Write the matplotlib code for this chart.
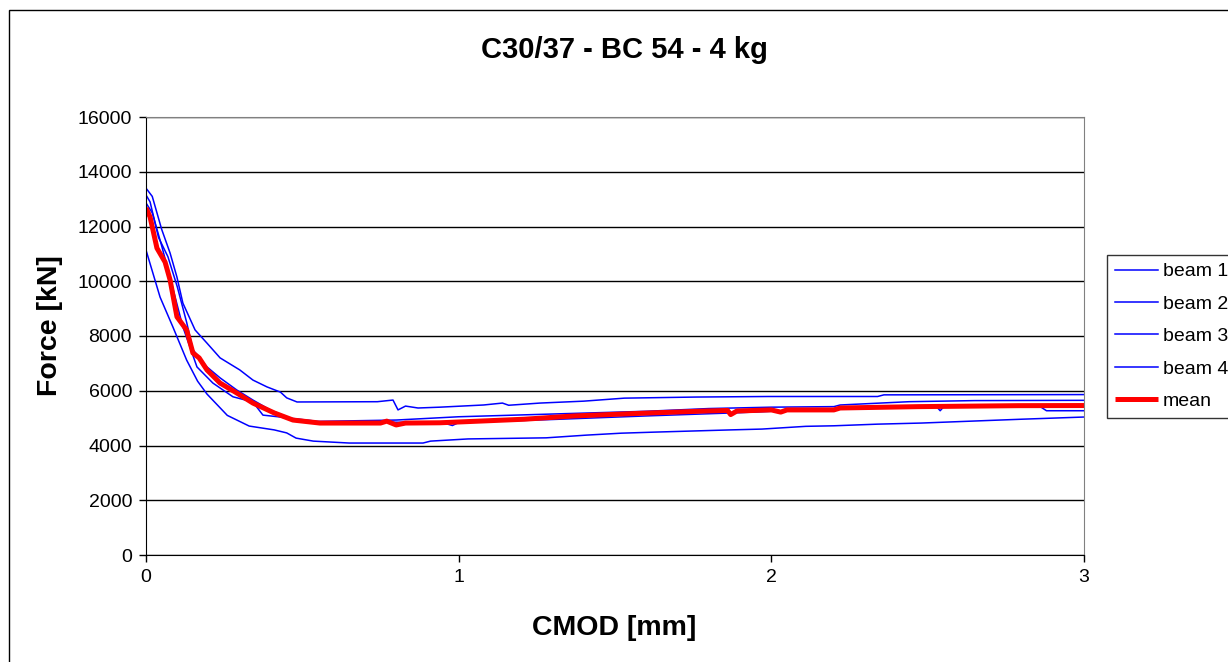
import numpy as np
import matplotlib
matplotlib.use("Agg")
import matplotlib.pyplot as plt
from matplotlib.patches import Rectangle

plt.rcParams['font.family'] = ['Liberation Sans', 'DejaVu Sans']

# beam 1 (top curve)
x1 = [0, 0.02, 0.05, 0.077, 0.099, 0.118, 0.157, 0.195, 0.237, 0.30, 0.342, 0.387, 0.43, 0.45, 0.483,
      0.74, 0.79, 0.806, 0.83, 0.87, 0.94, 1.08, 1.14, 1.16, 1.26, 1.40, 1.53, 1.76, 1.99, 2.34, 2.36, 3.0]
f1 = [13400, 13100, 11900, 11030, 10150, 9200, 8220, 7740, 7200, 6760, 6390, 6140, 5950, 5740, 5590,
      5600, 5660, 5300, 5440, 5370, 5400, 5480, 5550, 5470, 5550, 5620, 5730, 5770, 5790, 5790, 5850, 5860]

# beam 2
x2 = [0, 0.013, 0.04, 0.07, 0.10, 0.13, 0.15, 0.195, 0.237, 0.29, 0.342, 0.397, 0.46, 0.55, 0.8, 1.0,
      1.3, 1.6, 1.8, 2.0, 2.2, 2.22, 2.44, 2.65, 3.0]
f2 = [13150, 12900, 11600, 10900, 9800, 8500, 7500, 6870, 6470, 6030, 5660, 5300, 5000, 4880, 4930, 5050,
      5150, 5250, 5350, 5400, 5420, 5480, 5600, 5640, 5650]

# beam 3
x3 = [0, 0.02, 0.05, 0.08, 0.118, 0.163, 0.214, 0.278, 0.342, 0.374, 0.43, 0.535, 0.8, 0.95, 0.98, 1.0,
      1.3, 1.6, 1.9, 2.1, 2.4, 2.53, 2.54, 2.55, 2.86, 2.88, 3.0]
f3 = [12860, 12500, 11300, 10000, 8330, 6870, 6280, 5780, 5590, 5110, 5040, 4860, 4850, 4830, 4730, 4840,
      4950, 5080, 5200, 5300, 5380, 5400, 5270, 5400, 5420, 5270, 5270]

# beam 4 (bottom curve)
x4 = [0, 0.045, 0.086, 0.13, 0.165, 0.195, 0.26, 0.33, 0.41, 0.45, 0.48, 0.535, 0.65, 0.886, 0.91, 1.03,
      1.28, 1.41, 1.52, 1.63, 1.75, 1.87, 1.97, 2.11, 2.20, 2.34, 2.48, 2.64, 2.80, 3.0]
f4 = [11140, 9420, 8330, 7120, 6350, 5880, 5100, 4710, 4570, 4460, 4270, 4160, 4090, 4090, 4160, 4240,
      4280, 4380, 4450, 4490, 4530, 4570, 4600, 4700, 4720, 4780, 4820, 4890, 4960, 5040]

# mean
xm = [0, 0.013, 0.035, 0.061, 0.077, 0.099, 0.13, 0.15, 0.17, 0.195, 0.237, 0.29, 0.342, 0.41, 0.47, 0.556,
      0.75, 0.77, 0.80, 0.83, 0.94, 1.21, 1.37, 1.58, 1.79, 1.86, 1.87, 1.89, 2.0, 2.03, 2.05, 2.2, 2.22,
      2.47, 2.79, 3.0]
fm = [12680, 12350, 11210, 10700, 10050, 8700, 8220, 7380, 7200, 6760, 6280, 5920, 5550, 5190, 4930, 4820,
      4820, 4890, 4750, 4820, 4830, 4960, 5080, 5175, 5260, 5280, 5130, 5260, 5300, 5220, 5300, 5300, 5370,
      5420, 5455, 5460]

fig = plt.figure(figsize=(12.28, 6.62), dpi=100)
ax = fig.add_axes([146/1228, 1-555/662, 938/1228, 438/662])

for i, (x, f) in enumerate([(x1, f1), (x2, f2), (x3, f3), (x4, f4)]):
    ax.plot(x, f, color='#0000ff', lw=1.1, label='beam %d' % (i + 1))
ax.plot(xm, fm, color='#ff0000', lw=3.6, label='mean', solid_capstyle='butt')

ax.set_xlim(0, 3)
ax.set_ylim(0, 16000)
ax.set_xticks([0, 1, 2, 3])
ax.set_yticks(np.arange(0, 16001, 2000))
ax.yaxis.grid(True, color='black', lw=1)
ax.set_axisbelow(True)
ax.tick_params(labelsize=14, length=5, width=1, color='black', pad=5)
for s in ['top', 'right']:
    ax.spines[s].set_color('#808080')
for s in ['left', 'bottom']:
    ax.spines[s].set_color('black')

fig.text(624/1228, 1-50/662, 'C30/37 - BC 54 - 4 kg', ha='center', va='center',
         fontsize=21, fontweight='bold')
fig.text(614/1228, 1-628/662, 'CMOD [mm]', ha='center', va='center', fontsize=20.5, fontweight='bold')
fig.text(50/1228, 1-326/662, 'Force [kN]', ha='center', va='center', rotation=90,
         fontsize=20.5, fontweight='bold')

leg = ax.legend(loc='upper left', bbox_to_anchor=(1107/1228, 1-255/662), bbox_transform=fig.transFigure,
                frameon=True, fancybox=False, fontsize=14, handlelength=2.2, handletextpad=0.26,
                borderpad=0.4, labelspacing=0.76, borderaxespad=0)
leg.get_frame().set_edgecolor('black')
leg.get_frame().set_linewidth(1)

fig.patches.append(Rectangle((9/1228, -0.05), 1.1, 1.05 - 10/662, transform=fig.transFigure,
                             fill=False, edgecolor='black', lw=1))

fig.savefig('out.png', dpi=100)
